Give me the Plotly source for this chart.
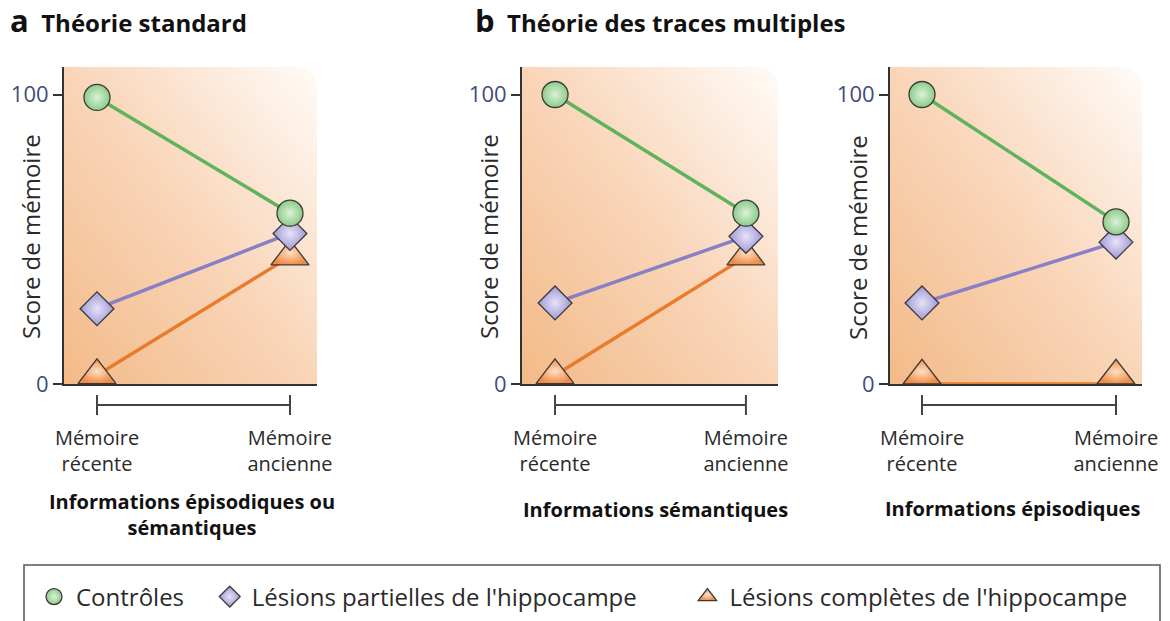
import base64
import plotly.graph_objects as go

# ---------------- data ----------------
categories = ["Mémoire<br>récente", "Mémoire<br>ancienne"]
x_pos = [0, 1]

series_names = ["Contrôles", "Lésions partielles de l'hippocampe", "Lésions complètes de l'hippocampe"]

# panel a : Théorie standard (épisodiques ou sémantiques)
a_controles = [99, 59]
a_partielles = [26, 52]
a_completes = [3, 44]

# panel b1 : traces multiples, informations sémantiques
b1_controles = [100, 59]
b1_partielles = [28, 51]
b1_completes = [3, 44]

# panel b2 : traces multiples, informations épisodiques
b2_controles = [100, 56]
b2_partielles = [28, 49]
b2_completes = [0, 0]

y_ticks = [0, 100]
y_ticktext = ["0", "100"]

panel_titles = ["Informations épisodiques ou<br>sémantiques", "Informations sémantiques", "Informations épisodiques"]
y_title = "Score de mémoire"

# ---------------- styles ----------------
W, H = 1170, 621
FONT = "Open Sans"
TXT = "#2a2a2a"
TICK = "#3f4c7c"
AX = "#333333"

styles = {
    "ctrl": dict(symbol="circle", size=26, color="#8ccc88", center="#dcf1d9", line="#5fb35c"),
    "part": dict(symbol="diamond", size=26, color="#9f98d6", center="#e6e3f7", line="#8780c6"),
    "comp": dict(symbol="triangle-up", size=33, color="#f08c45", center="#fde0c6", line="#e87b2c"),
}
legend_pad = {"ctrl": "\u00a0" * 3, "part": "\u00a0" * 7, "comp": ""}

# panel pixel geometry (left, right) and y domain
panels = [(64, 317), (522, 778), (890, 1142)]
xranges = [[-0.171, 1.14], [-0.173, 1.168], [-0.165, 1.134]]
plot_top, plot_bot = 67, 384
ydom = [(H - plot_bot) / H, (H - plot_top) / H]
yrange = [0, 109.5]

fig = go.Figure()


def add_series(vals, key, xa, ya, mode="lines+markers"):
    s = styles[key]
    fig.add_trace(go.Scatter(
        x=x_pos, y=vals, xaxis=xa, yaxis=ya, mode=mode,
        showlegend=False, cliponaxis=False, hoverinfo="skip",
        line=dict(color=s["line"], width=3.5),
        marker=dict(symbol=s["symbol"], size=s["size"], color=s["color"],
                    gradient=dict(type="radial", color=s["center"]),
                    line=dict(color="#3a3a3a", width=1.3)),
    ))


data_panels = [
    (a_controles, a_partielles, a_completes),
    (b1_controles, b1_partielles, b1_completes),
    (b2_controles, b2_partielles, b2_completes),
]

for i, (ctrl, part, comp) in enumerate(data_panels):
    xa = "x" if i == 0 else f"x{i+1}"
    ya = "y" if i == 0 else f"y{i+1}"
    if i < 2:
        add_series(comp, "comp", xa, ya)
    else:
        # line along the axis, markers resting on it (drawn on a shifted overlay axis)
        add_series(comp, "comp", xa, ya, mode="lines")
        add_series(comp, "comp", xa, "y4", mode="markers")
    add_series(part, "part", xa, ya)
    add_series(ctrl, "ctrl", xa, ya)

# legend-only entries
for nm, key in zip(series_names, ["ctrl", "part", "comp"]):
    s = styles[key]
    fig.add_trace(go.Scatter(
        x=[None], y=[None], mode="markers", name=nm + legend_pad[key], showlegend=True,
        marker=dict(symbol=s["symbol"], size=s["size"], color=s["color"],
                    gradient=dict(type="radial", color=s["center"]),
                    line=dict(color="#3a3a3a", width=1.3)),
    ))

layout = dict(
    width=W, height=H,
    margin=dict(l=0, r=0, t=0, b=0, autoexpand=False),
    paper_bgcolor="white", plot_bgcolor="rgba(0,0,0,0)",
    font=dict(family=FONT, color=TXT),
    showlegend=True,
    legend=dict(orientation="h", x=32 / W, xanchor="left", y=(H - 597) / H, yanchor="middle",
                font=dict(family=FONT, size=24, color=TXT), itemsizing="trace",
                bgcolor="rgba(0,0,0,0)", tracegroupgap=0, itemwidth=34),
)

shapes = []
images = []
annotations = []

for i, ((px0, px1), xr) in enumerate(zip(panels, xranges)):
    xk = "xaxis" if i == 0 else f"xaxis{i+1}"
    yk = "yaxis" if i == 0 else f"yaxis{i+1}"
    yid = "x" if i == 0 else f"x{i+1}"
    layout[xk] = dict(
        domain=[px0 / W, px1 / W], range=xr, anchor="y" if i == 0 else f"y{i+1}",
        tickvals=x_pos, ticktext=categories, ticks="", showgrid=False, zeroline=False,
        showline=True, linecolor=AX, linewidth=2, ticklabelstandoff=35, automargin=False,
        tickfont=dict(family=FONT, size=20, color=TXT), fixedrange=True,
    )
    layout[yk] = dict(
        domain=ydom, range=yrange, anchor=yid, tickvals=y_ticks, ticktext=y_ticktext,
        ticks="outside", ticklen=9, tickwidth=1.5, tickcolor=AX, showgrid=False,
        zeroline=False, showline=True, linecolor=AX, linewidth=2, automargin=False,
        tickfont=dict(family=FONT, size=22, color=TICK), fixedrange=True,
    )
    # gradient background with rounded top-right corner
    w, h, r = px1 - px0, plot_bot - plot_top, 22
    svg = (f'<svg xmlns="http://www.w3.org/2000/svg" width="{w}" height="{h}" viewBox="0 0 {w} {h}" '
           f'preserveAspectRatio="none"><defs><linearGradient id="g" x1="0" y1="1" x2="1" y2="0">'
           f'<stop offset="0" stop-color="#f3ba88"/><stop offset="0.5" stop-color="#f9d5b8"/>'
           f'<stop offset="1" stop-color="#fffbf8"/></linearGradient></defs>'
           f'<path d="M0,0 H{w - r} Q{w},0 {w},{r} V{h} H0 Z" fill="url(#g)"/></svg>')
    uri = "data:image/svg+xml;base64," + base64.b64encode(svg.encode()).decode()
    images.append(dict(source=uri, xref="paper", yref="paper", x=px0 / W, y=ydom[1],
                       sizex=w / W, sizey=h / H, sizing="stretch", xanchor="left",
                       yanchor="top", layer="below"))
    # bracket below the axis
    xref = "x" if i == 0 else f"x{i+1}"
    yb = (H - 405) / H
    shapes.append(dict(type="line", xref=xref, yref="paper", x0=0, x1=1, y0=yb, y1=yb,
                       line=dict(color="#444", width=2)))
    for xv in x_pos:
        shapes.append(dict(type="line", xref=xref, yref="paper", x0=xv, x1=xv,
                           y0=(H - 415) / H, y1=(H - 395) / H, line=dict(color="#444", width=2)))

# overlay axis for resting triangles in panel b2 (shifted by half-base of marker)
shift = (styles["comp"]["size"] / 4) / ((plot_bot - plot_top) / (yrange[1] - yrange[0]))
layout["yaxis4"] = dict(overlaying="y3", range=[yrange[0] - shift, yrange[1] - shift],
                        visible=False, fixedrange=True, automargin=False)

# y-axis titles
for xc in [30, 488, 857]:
    annotations.append(dict(text=y_title, xref="paper", yref="paper", x=xc / W,
                            y=(H - 237) / H, xanchor="center", yanchor="middle",
                            showarrow=False, textangle=-90,
                            font=dict(family=FONT, size=24, color=TXT)))

# bold panel subtitles
for txt, xc, yc in zip(panel_titles, [192, 655, 1012], [514, 509, 508]):
    annotations.append(dict(text=f"<b>{txt}</b>", xref="paper", yref="paper", x=xc / W,
                            y=(H - yc) / H, xanchor="center", yanchor="middle",
                            showarrow=False, align="center",
                            font=dict(family=FONT, size=20, color="#111")))

# headline titles
annotations.append(dict(text="<b><span style='font-size:31px'>a</span>  Théorie standard</b>",
                        xref="paper", yref="paper", x=8 / W, y=(H - 20) / H, xanchor="left",
                        yanchor="middle", showarrow=False,
                        font=dict(family=FONT, size=24, color="#111")))
annotations.append(dict(text="<b><span style='font-size:31px'>b</span>  Théorie des traces multiples</b>",
                        xref="paper", yref="paper", x=473 / W, y=(H - 20) / H, xanchor="left",
                        yanchor="middle", showarrow=False,
                        font=dict(family=FONT, size=24, color="#111")))

# legend frame
shapes.append(dict(type="rect", xref="paper", yref="paper", x0=24 / W, x1=1160 / W,
                   y0=-0.05, y1=(H - 565) / H, line=dict(color="#555", width=1.5)))

layout["shapes"] = shapes
layout["images"] = images
layout["annotations"] = annotations
fig.update_layout(**layout)

fig.write_html("out.html", config={"displayModeBar": False},
               post_script="document.body.style.margin='0px';")
